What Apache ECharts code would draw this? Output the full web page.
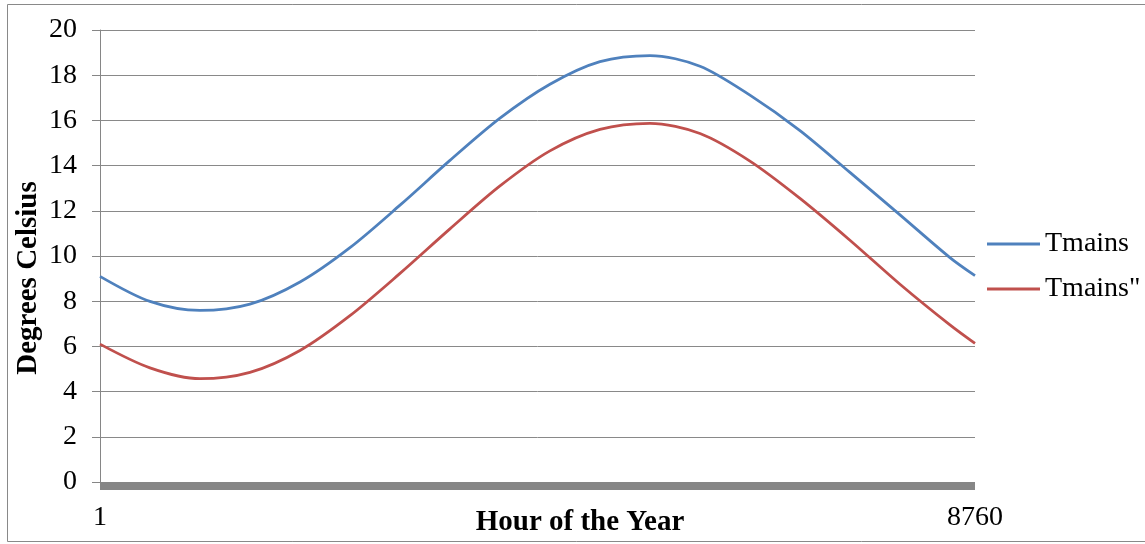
<!DOCTYPE html>
<html><head><meta charset="utf-8">
<script src="https://cdn.jsdelivr.net/npm/echarts@6/dist/echarts.min.js"></script>
<style>html,body{margin:0;padding:0;background:#fff}#c{width:1145px;height:544px}</style>
</head><body><div id="c"></div>
<script>
const seriesNames = ['Tmains', 'Tmains"'];
const xTickLabels = [1, 8760];
const xAxisTitle = 'Hour of the Year';
const yAxisTitle = 'Degrees Celsius';

// hour of the year at which the curves were read (about every 500 h)
const hours = [1, 501, 1002, 1502, 2003, 2503, 3004, 3504, 4005, 4505, 5006, 5506, 6007, 6507, 7008, 7508, 8009, 8509, 8760];
const tmainsValues  = [9.1, 7.99, 7.59, 7.87, 8.85, 10.37, 12.25, 14.23, 16.1, 17.6, 18.6, 18.87, 18.4, 17.12, 15.55, 13.7, 11.82, 9.93, 9.13];
const tmains2Values = [6.1, 5.05, 4.57, 4.85, 5.82, 7.36, 9.23, 11.2, 13.1, 14.65, 15.6, 15.87, 15.42, 14.2, 12.55, 10.7, 8.75, 6.95, 6.13];

const FONT = 'Liberation Serif';
const chart = echarts.init(document.getElementById('c'), null, {renderer: 'canvas'});
const pair = (xs, ys) => xs.map((x, i) => [x, ys[i]]);

chart.setOption({
  animation: false,
  backgroundColor: '#fff',
  grid: {left: 100, right: 170, top: 30, bottom: 62},
  xAxis: {
    type: 'value', min: 1, max: 8760, offset: 4,
    axisLine: {onZero: false, lineStyle: {color: '#868686', width: 8, cap: 'butt'}},
    axisTick: {show: false},
    splitLine: {show: false},
    axisLabel: {customValues: xTickLabels, formatter: v => String(v), color: '#000', fontFamily: FONT, fontSize: 28, margin: 18}
  },
  yAxis: {
    type: 'value', min: 0, max: 20, interval: 2,
    axisLine: {show: true, lineStyle: {color: '#868686', width: 1}},
    axisTick: {show: true, length: 8, lineStyle: {color: '#868686'}},
    splitLine: {show: true, lineStyle: {color: '#898989', width: 1}},
    axisLabel: {color: '#000', fontFamily: FONT, fontSize: 28, margin: 23}
  },
  legend: {
    orient: 'vertical', left: 987, top: 230, padding: 0,
    icon: 'rect', itemWidth: 53, itemHeight: 3, itemGap: 17,
    textStyle: {fontFamily: FONT, fontSize: 28, color: '#000'},
    data: seriesNames
  },
  series: [
    {name: seriesNames[0], type: 'line', smooth: 0.3, symbol: 'none',
     lineStyle: {color: '#4F81BD', width: 2.75}, itemStyle: {color: '#4F81BD'},
     data: pair(hours, tmainsValues)},
    {name: seriesNames[1], type: 'line', smooth: 0.3, symbol: 'none',
     lineStyle: {color: '#C0504D', width: 2.75}, itemStyle: {color: '#C0504D'},
     data: pair(hours, tmains2Values)}
  ],
  graphic: [
    {type: 'rect', silent: true, shape: {x: 7.5, y: 4.5, width: 1150, height: 537},
     style: {fill: 'none', stroke: '#898989', lineWidth: 1}},
    {type: 'text', silent: true, x: 580, y: 523,
     style: {text: xAxisTitle, font: 'bold 29px "Liberation Serif"', fill: '#000', align: 'center', verticalAlign: 'middle'}},
    {type: 'text', silent: true, x: 29, y: 278, rotation: Math.PI / 2,
     style: {text: yAxisTitle, font: 'bold 29px "Liberation Serif"', fill: '#000', align: 'center', verticalAlign: 'middle'}}
  ]
});
</script>
</body></html>
